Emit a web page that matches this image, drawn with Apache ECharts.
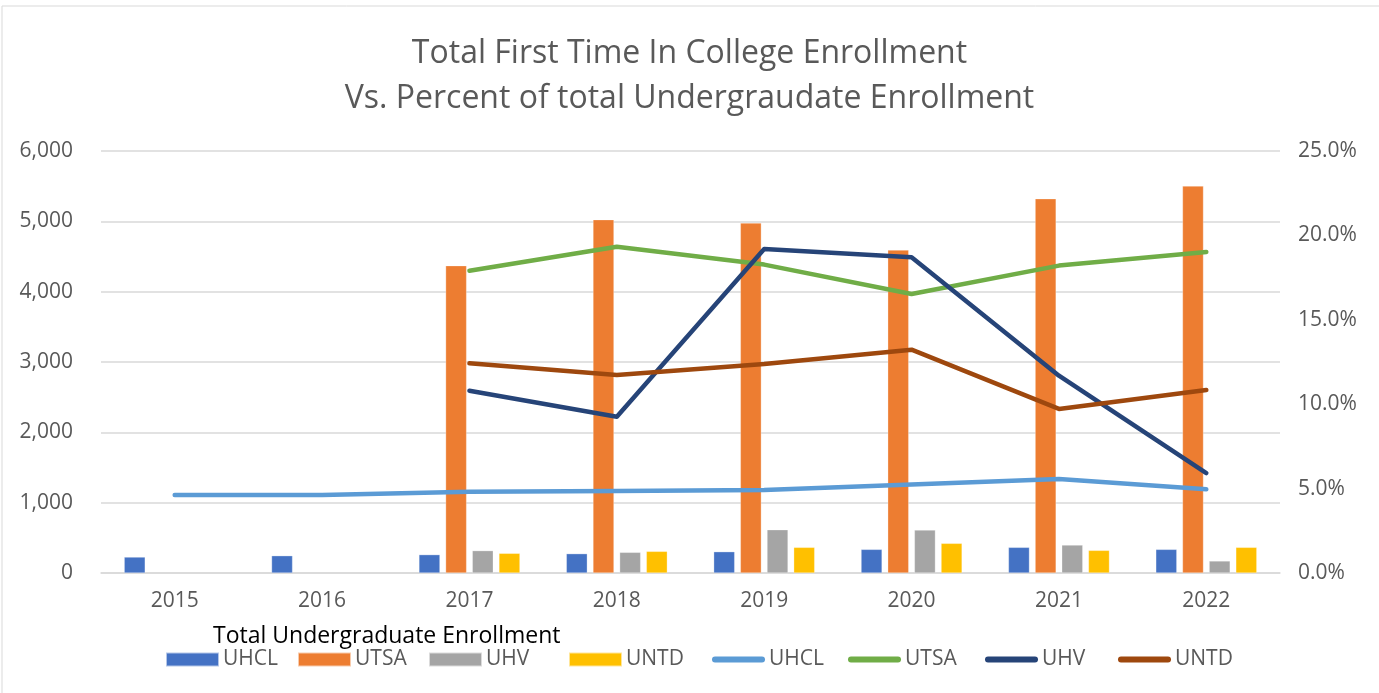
<!DOCTYPE html>
<html>
<head>
<meta charset="utf-8">
<script src="https://cdn.jsdelivr.net/npm/echarts@6/dist/echarts.min.js"></script>
<style>html,body{margin:0;padding:0;background:#fff}#c{width:1379px;height:693px}</style>
</head>
<body>
<div id="c"></div>
<script>
const years = ['2015','2016','2017','2018','2019','2020','2021','2022'];
// Total undergraduate enrollment (bars, left axis)
const barUHCL = [227, 246, 261, 275, 303, 336, 365, 336];
const barUTSA = [null, null, 4370, 5024, 4976, 4592, 5322, 5502];
const barUHV  = [null, null, 318, 294, 616, 611, 398, 171];
const barUNTD = [null, null, 280, 308, 365, 422, 322, 365];
// Percent (lines, right axis)
const pctUHCL = [0.0462, 0.0462, 0.0482, 0.0486, 0.0492, 0.0525, 0.0557, 0.0496];
const pctUTSA = [null, null, 0.1791, 0.1933, 0.1827, 0.1653, 0.1821, 0.1902];
const pctUHV  = [null, null, 0.1080, 0.0926, 0.1919, 0.1870, 0.1169, 0.0592];
const pctUNTD = [null, null, 0.1242, 0.1173, 0.1238, 0.1323, 0.0972, 0.1084];
const leftTicks = [0, 6000, 1000];
const rightTicks = [0, 0.25, 0.05];

const FONT = 'Open Sans';
const GRAY = '#595959';
const chart = echarts.init(document.getElementById('c'), null, {renderer: 'canvas'});

function bar(name, data, color) {
  return {name, type: 'bar', yAxisIndex: 0, data, barWidth: 21, barGap: '27%',
    itemStyle: {color, borderColor: 'rgba(255,255,255,0.6)', borderWidth: 0.5}};
}
function line(name, data, color) {
  return {name, type: 'line', yAxisIndex: 1, data, showSymbol: false, symbol: 'none',
    lineStyle: {color, width: 4.5, cap: 'round', join: 'round'}, itemStyle: {color}, z: 5};
}
const lineIcon = 'path://M3,0 L50,0 A3,3 0 0 1 50,6 L3,6 A3,3 0 0 1 3,0 Z';
const legendItems = [
  {name: 'UHCL', icon: 'rect', left: 165}, {name: 'UTSA', icon: 'rect', left: 297},
  {name: 'UHV', icon: 'rect', left: 428}, {name: 'UNTD', icon: 'rect', left: 568},
  {name: 'UHCL ', icon: lineIcon, left: 712}, {name: 'UTSA ', icon: lineIcon, left: 848},
  {name: 'UHV ', icon: lineIcon, left: 985}, {name: 'UNTD ', icon: lineIcon, left: 1118}
];

chart.setOption({
  animation: false,
  backgroundColor: '#fff',
  textStyle: {fontFamily: FONT},
  title: [{
    text: 'Total First Time In College Enrollment\nVs. Percent of total Undergraudate Enrollment',
    left: 'center', top: 26,
    textStyle: {fontFamily: FONT, fontSize: 32, fontWeight: 'normal', color: GRAY, lineHeight: 45}
  }, {
    text: 'Total Undergraduate Enrollment',
    left: 208, top: 620,
    textStyle: {fontFamily: FONT, fontSize: 23, fontWeight: 'normal', color: '#000'}
  }],
  graphic: [{type: 'rect', shape: {x: 2, y: 6, width: 1400, height: 700},
    style: {fill: 'none', stroke: '#d9d9d9', lineWidth: 1}, silent: true}],
  legend: legendItems.map(it => ({
    left: it.left, top: 649, padding: 0, itemWidth: 53, itemHeight: 14,
    textStyle: {fontFamily: FONT, fontSize: 21, color: GRAY, padding: [0, 0, 0, -1]},
    data: [{name: it.name, icon: it.icon}]
  })),
  grid: {left: 101, right: 99, top: 151, bottom: 120, containLabel: false},
  xAxis: {
    type: 'category', data: years,
    axisLine: {lineStyle: {color: '#d9d9d9', width: 1.5}},
    axisTick: {show: false},
    axisLabel: {fontFamily: FONT, fontSize: 21, color: GRAY, margin: 18}
  },
  yAxis: [{
    type: 'value', min: leftTicks[0], max: leftTicks[1], interval: leftTicks[2],
    axisLine: {show: false}, axisTick: {show: false},
    splitLine: {lineStyle: {color: '#d9d9d9', width: 1.5}},
    axisLabel: {fontFamily: FONT, fontSize: 21, color: GRAY, margin: 28,
      formatter: v => v.toLocaleString('en-US')}
  }, {
    type: 'value', min: rightTicks[0], max: rightTicks[1], interval: rightTicks[2],
    axisLine: {show: false}, axisTick: {show: false}, splitLine: {show: false},
    axisLabel: {fontFamily: FONT, fontSize: 21, color: GRAY, margin: 18,
      formatter: v => (v * 100).toFixed(1) + '%'}
  }],
  series: [
    bar('UHCL', barUHCL, '#4472c4'),
    bar('UTSA', barUTSA, '#ed7d31'),
    bar('UHV', barUHV, '#a5a5a5'),
    bar('UNTD', barUNTD, '#ffc000'),
    line('UHCL ', pctUHCL, '#5b9bd5'),
    line('UTSA ', pctUTSA, '#70ad47'),
    line('UHV ', pctUHV, '#264478'),
    line('UNTD ', pctUNTD, '#9e480e')
  ]
});
</script>
</body>
</html>
